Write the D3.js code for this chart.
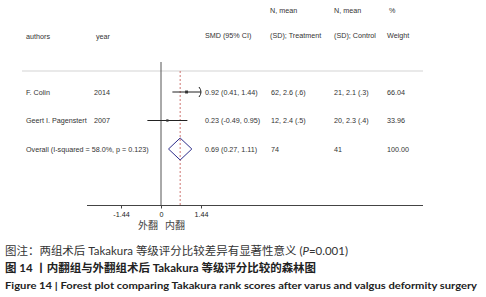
<!DOCTYPE html>
<html><head><meta charset="utf-8">
<script src="https://cdn.jsdelivr.net/npm/d3@7/dist/d3.min.js"></script>
<style>
html,body{margin:0;padding:0;background:#fff;}
svg{display:block;}
</style></head>
<body><svg id="c" width="486" height="297"></svg>
<script>
const authors = ["F. Colin", "Geert I. Pagenstert"];
const years = ["2014", "2007"];
const smd = [0.92, 0.23];
const ciLow = [0.41, -0.49];
const ciHigh = [1.44, 0.95];
const smdLabels = ["0.92 (0.41, 1.44)", "0.23 (-0.49, 0.95)"];
const treatment = ["62, 2.6 (.6)", "12, 2.4 (.5)"];
const control = ["21, 2.1 (.3)", "20, 2.3 (.4)"];
const weights = [66.04, 33.96];
const overall = {label: "Overall  (I-squared = 58.0%, p = 0.123)", smd: 0.69, lo: 0.27, hi: 1.11, text: "0.69 (0.27, 1.11)", nT: "74", nC: "41", w: "100.00"};
const axisTicks = [-1.44, 0, 1.44];
const axisTickLabels = ["-1.44", "0", "1.44"];
const axisLimit = 1.44;

const svg = d3.select("#c");
const x = d3.scaleLinear().domain([-1.44, 1.44]).range([121, 201]);
const rowY = d3.scalePoint().domain([0,1,2]).range([92, 149]);
const txt = "#333";
const fs = 7.2;
const font = "Liberation Sans, Arial, sans-serif";

function t(xp, yp, s, opts={}) {
  return svg.append("text").attr("x", xp).attr("y", yp).attr("dy", "0.35em")
    .attr("font-family", font).attr("font-size", opts.size || fs)
    .attr("fill", opts.fill || txt).attr("text-anchor", opts.anchor || "start").text(s);
}

// headers
t(270, 10, "N, mean"); t(334, 10, "N, mean"); t(389, 10, "%");
t(26, 36, "authors"); t(96, 36, "year"); t(205, 35, "SMD (95% CI)");
t(270, 35, "(SD); Treatment"); t(334, 35, "(SD); Control"); t(387, 35, "Weight");

// header rule
svg.append("line").attr("x1", 22).attr("x2", 423).attr("y1", 71).attr("y2", 71)
  .attr("stroke", "#e2e2e2").attr("stroke-width", 1.5);

// null line
svg.append("line").attr("x1", x(0)).attr("x2", x(0)).attr("y1", 62).attr("y2", 205)
  .attr("stroke", "#555").attr("stroke-width", 1);
// overall dashed line
svg.append("line").attr("x1", x(overall.smd)).attr("x2", x(overall.smd)).attr("y1", 71).attr("y2", 205)
  .attr("stroke", "#c0504d").attr("stroke-width", 0.8).attr("stroke-dasharray", "2,2");

// study rows
authors.forEach((a, i) => {
  const y = rowY(i);
  t(26, y, a); t(94, y, years[i]);
  const hi = Math.min(ciHigh[i], axisLimit);
  svg.append("line").attr("x1", x(ciLow[i])).attr("x2", x(hi)).attr("y1", y).attr("y2", y)
    .attr("stroke", "#222").attr("stroke-width", 1);
  if (ciHigh[i] >= axisLimit) {
    const xe = x(axisLimit);
    svg.append("path").attr("d", `M${xe-2},${y-5} Q${xe+2},${y} ${xe-2},${y+5}`)
      .attr("fill", "none").attr("stroke", "#222").attr("stroke-width", 1);
  }
  const s = 0.8 + weights[i] / 100;
  svg.append("rect").attr("x", x(smd[i]) - s).attr("y", y - s).attr("width", 2*s).attr("height", 2*s)
    .attr("fill", "#333");
  t(205, y, smdLabels[i]); t(271, y, treatment[i]); t(334, y, control[i]); t(387, y, weights[i].toFixed(2));
});

// overall
const yo = rowY(2);
t(26, yo, overall.label);
svg.append("path").attr("d", `M${x(overall.lo)},${yo} L${x(overall.smd)},${yo-11} L${x(overall.hi)},${yo} L${x(overall.smd)},${yo+11} Z`)
  .attr("fill", "none").attr("stroke", "#2e2e8c").attr("stroke-width", 1);
t(205, yo, overall.text); t(271, yo, overall.nT); t(334, yo, overall.nC); t(387, yo, overall.w);

// axis
svg.append("line").attr("x1", 87).attr("x2", 423).attr("y1", 205.5).attr("y2", 205.5)
  .attr("stroke", "#444").attr("stroke-width", 1);
const ax = svg.append("g").attr("transform", "translate(0,205.5)")
  .call(d3.axisBottom(x).tickValues(axisTicks).tickSize(3).tickFormat((d, i) => axisTickLabels[i]));
ax.select(".domain").remove();
ax.selectAll("line").attr("stroke", "#444");
ax.selectAll("text").attr("font-family", font).attr("font-size", fs).attr("fill", "#222").attr("y", 6);

t(x(0) - 3, 225, "外翻", {anchor: "end", size: 10, fill: "#444"}).attr("font-family", "Noto Sans CJK SC");
t(x(0) + 4, 225, "内翻", {anchor: "start", size: 10, fill: "#444"}).attr("font-family", "Noto Sans CJK SC");

// captions
const capFont = "Lato, 'Noto Sans CJK SC', sans-serif";
const c1 = svg.append("text").attr("x", 5).attr("y", 255).attr("font-family", capFont)
  .attr("font-size", 11).attr("fill", "#333").attr("textLength", 343).attr("lengthAdjust", "spacingAndGlyphs");
c1.append("tspan").text("图注：两组术后 Takakura 等级评分比较差异有显著性意义 (");
c1.append("tspan").attr("font-style", "italic").text("P");
c1.append("tspan").text("=0.001)");
svg.append("text").attr("x", 5).attr("y", 272).attr("font-family", capFont).attr("font-weight", "bold")
  .attr("font-size", 11).attr("fill", "#222").attr("textLength", 311).attr("lengthAdjust", "spacingAndGlyphs")
  .text("图 14 丨内翻组与外翻组术后 Takakura 等级评分比较的森林图");
svg.append("text").attr("x", 5).attr("y", 289).attr("font-family", capFont).attr("font-weight", "bold")
  .attr("font-size", 10).attr("fill", "#222").attr("textLength", 472).attr("lengthAdjust", "spacingAndGlyphs")
  .text("Figure 14  |  Forest plot comparing Takakura rank scores after varus and valgus deformity surgery");
</script></body></html>
